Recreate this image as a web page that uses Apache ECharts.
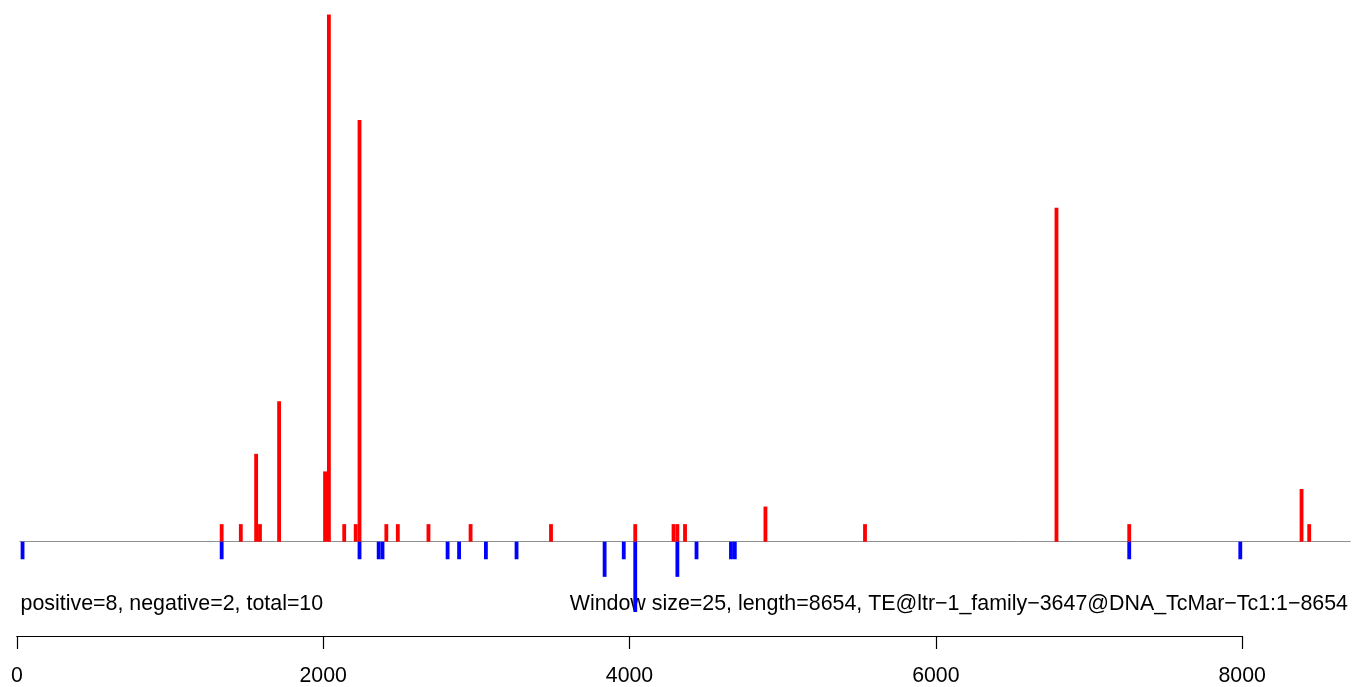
<!DOCTYPE html>
<html>
<head>
<meta charset="utf-8">
<script src="https://cdn.jsdelivr.net/npm/echarts@6/dist/echarts.min.js"></script>
<style>
html,body{margin:0;padding:0;background:#fff;}
#chart{width:1352px;height:687px;}
</style>
</head>
<body>
<div id="chart"></div>
<script>
// Window size (bp) used for each bar
const windowSize = 25;
// Positive (forward) windows: start positions and counts
const posStart = [1325, 1450, 1550, 1575, 1700, 2000, 2025, 2125, 2200, 2225, 2400, 2475, 2675, 2950, 3475, 4025, 4275, 4300, 4350, 4875, 5525, 6775, 7250, 8375, 8425];
const posCount = [1, 1, 5, 1, 8, 4, 30, 1, 1, 24, 1, 1, 1, 1, 1, 1, 1, 1, 1, 2, 1, 19, 1, 3, 1];
// Negative (reverse) windows: start positions and counts
const negStart = [25, 1325, 2225, 2350, 2375, 2800, 2875, 3050, 3250, 3825, 3950, 4025, 4300, 4425, 4650, 4675, 7250, 7975];
const negCount = [1, 1, 1, 1, 1, 1, 1, 1, 1, 2, 1, 4, 2, 1, 1, 1, 1, 1];
// Bottom axis ticks
const tickValues = [0, 2000, 4000, 6000, 8000];
const leftText = 'positive=8, negative=2, total=10';
const rightText = 'Window size=25, length=8654, TE@ltr\u22121_family\u22123647@DNA_TcMar\u2212Tc1:1\u22128654';

const posData = posStart.map((s, i) => [s, posCount[i]]);
const negData = negStart.map((s, i) => [s, -negCount[i]]);

const FONT = '"Liberation Sans", Arial, Helvetica, sans-serif';

function renderBar(color) {
  return function (params, api) {
    const s = api.value(0);
    const v = api.value(1);
    const p0 = api.coord([s, 0]);
    const p1 = api.coord([s + windowSize, v]);
    return {
      type: 'rect',
      shape: {
        x: p0[0],
        y: Math.min(p0[1], p1[1]),
        width: p1[0] - p0[0],
        height: Math.abs(p1[1] - p0[1])
      },
      style: { fill: color }
    };
  };
}

// scale: 0 -> 16.8px, 8000 -> 1242.2px
const pxPerUnit = (1242.2 - 16.8) / 8000;
const x0 = 16.8;
const barMinX = 20, barMaxX = 8705;
const unitPx = 17.57, baseY = 541.7;
const yMax = 30, yMin = -5;

const chart = echarts.init(document.getElementById('chart'), null, { renderer: 'canvas' });
chart.setOption({
  animation: false,
  backgroundColor: '#ffffff',
  grid: [
    {
      left: x0 + barMinX * pxPerUnit,
      width: (barMaxX - barMinX) * pxPerUnit,
      top: baseY - yMax * unitPx,
      height: (yMax - yMin) * unitPx,
      containLabel: false
    },
    {
      left: x0,
      width: 8000 * pxPerUnit,
      top: 600,
      height: 36,
      containLabel: false
    }
  ],
  xAxis: [
    {
      gridIndex: 0, type: 'value', min: barMinX, max: barMaxX,
      axisLine: { show: true, onZero: true, lineStyle: { color: '#8f8f8f', width: 1 } },
      axisTick: { show: false }, axisLabel: { show: false }, splitLine: { show: false }
    },
    {
      gridIndex: 1, type: 'value', min: tickValues[0], max: tickValues[tickValues.length - 1],
      interval: tickValues[1] - tickValues[0], position: 'bottom',
      axisLine: { show: true, lineStyle: { color: '#000', width: 1.2 } },
      axisTick: { show: true, length: 13, lineStyle: { color: '#000', width: 1.2 } },
      axisLabel: { show: true, margin: 30, color: '#000', fontSize: 21.3, fontFamily: FONT, showMinLabel: true, showMaxLabel: true,
        formatter: function (v) { return String(v); } },
      splitLine: { show: false }
    }
  ],
  yAxis: [
    { gridIndex: 0, type: 'value', min: yMin, max: yMax, show: false },
    { gridIndex: 1, type: 'value', min: 0, max: 1, show: false }
  ],
  series: [
    { type: 'custom', xAxisIndex: 0, yAxisIndex: 0, renderItem: renderBar('#ff0000'), data: posData, encode: { x: 0, y: 1 }, z: 3 },
    { type: 'custom', xAxisIndex: 0, yAxisIndex: 0, renderItem: renderBar('#0000ff'), data: negData, encode: { x: 0, y: 1 }, z: 3 }
  ],
  graphic: [
    { type: 'text', left: 20.5, top: 594, style: { text: leftText, font: '21.4px ' + FONT, fill: '#000' } },
    { type: 'text', right: 4, top: 594, style: { text: rightText, font: '21.4px ' + FONT, fill: '#000' } }
  ]
});
</script>
</body>
</html>
